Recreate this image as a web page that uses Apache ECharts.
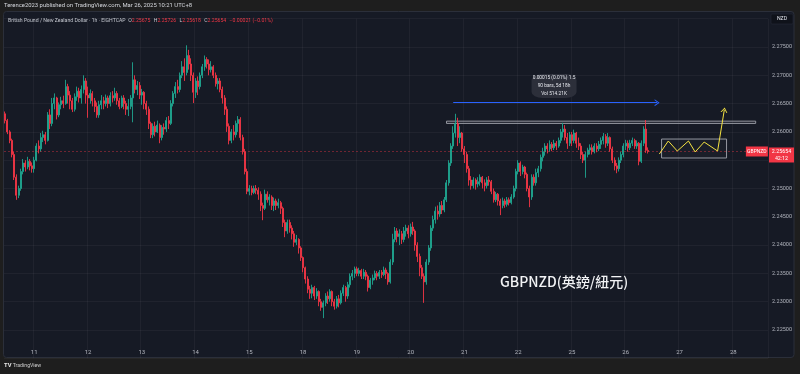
<!DOCTYPE html>
<html>
<head>
<meta charset="utf-8">
<script src="https://cdn.jsdelivr.net/npm/echarts@6/dist/echarts.min.js"></script>
<style>html,body{margin:0;padding:0;background:#1e1e1e;}#c{width:800px;height:374px;}</style>
</head>
<body>
<div id="c"></div>
<script>
// ---- data (GBPNZD, 1h bars, Mar 10 11:00 -> Mar 26 10:00 UTC+8) ----
const slotCount = 341;               // hourly slots on the time scale (incl. empty future)
const tickIdx  = [13,37,61,85,109,133,157,181,205,229,253,277,301,325];
const tickText = ['11','12','13','14','15','18','19','20','21','22','25','26','27','28'];
const firstOpen = 2.2632;
const closes = [
2.2620,2.2600,2.2585,2.2560,2.2520,2.2488,2.2500,2.2530,2.2545,2.2538,
2.2548,2.2540,2.2535,2.2550,2.2575,2.2570,2.2590,2.2595,2.2585,2.2630,
2.2615,2.2650,2.2660,2.2630,2.2648,2.2655,2.2650,2.2680,2.2665,2.2655,
2.2640,2.2662,2.2672,2.2660,2.2675,2.2690,2.2665,2.2660,2.2668,2.2655,
2.2645,2.2630,2.2648,2.2655,2.2650,2.2660,2.2650,2.2664,2.2660,2.2668,
2.2655,2.2645,2.2660,2.2650,2.2640,2.2645,2.2660,2.2692,2.2675,2.2682,
2.2665,2.2670,2.2650,2.2640,2.2615,2.2595,2.2610,2.2600,2.2612,2.2590,
2.2608,2.2605,2.2620,2.2615,2.2650,2.2668,2.2680,2.2675,2.2700,2.2715,
2.2705,2.2735,2.2720,2.2700,2.2670,2.2690,2.2680,2.2700,2.2715,2.2728,
2.2720,2.2710,2.2715,2.2700,2.2685,2.2690,2.2675,2.2660,2.2640,2.2610,
2.2585,2.2600,2.2595,2.2615,2.2622,2.2590,2.2565,2.2530,2.2495,2.2500,
2.2493,2.2500,2.2497,2.2490,2.2470,2.2465,2.2490,2.2480,2.2485,2.2470,
2.2478,2.2470,2.2475,2.2465,2.2440,2.2425,2.2440,2.2430,2.2420,2.2405,
2.2410,2.2395,2.2378,2.2360,2.2340,2.2322,2.2315,2.2325,2.2310,2.2318,
2.2300,2.2290,2.2298,2.2310,2.2305,2.2318,2.2300,2.2292,2.2305,2.2298,
2.2315,2.2325,2.2310,2.2330,2.2345,2.2350,2.2358,2.2350,2.2355,2.2345,
2.2352,2.2345,2.2325,2.2338,2.2342,2.2350,2.2345,2.2352,2.2348,2.2356,
2.2350,2.2335,2.2370,2.2410,2.2425,2.2415,2.2420,2.2410,2.2425,2.2430,
2.2420,2.2432,2.2425,2.2400,2.2380,2.2360,2.2345,2.2335,2.2370,2.2395,
2.2430,2.2445,2.2460,2.2455,2.2470,2.2462,2.2480,2.2510,2.2545,2.2575,
2.2598,2.2615,2.2590,2.2598,2.2570,2.2560,2.2535,2.2515,2.2505,2.2515,
2.2508,2.2512,2.2520,2.2510,2.2505,2.2515,2.2512,2.2495,2.2480,2.2490,
2.2478,2.2470,2.2478,2.2472,2.2480,2.2475,2.2485,2.2500,2.2530,2.2545,
2.2530,2.2538,2.2525,2.2500,2.2485,2.2520,2.2510,2.2528,2.2535,2.2555,
2.2565,2.2575,2.2570,2.2578,2.2572,2.2580,2.2575,2.2585,2.2600,2.2605,
2.2590,2.2580,2.2595,2.2585,2.2598,2.2580,2.2575,2.2560,2.2550,2.2560,
2.2568,2.2572,2.2565,2.2575,2.2570,2.2578,2.2585,2.2592,2.2580,2.2590,
2.2570,2.2550,2.2540,2.2535,2.2550,2.2560,2.2575,2.2580,2.2572,2.2580,
2.2585,2.2575,2.2580,2.2548,2.2580,2.2605,2.25675,2.25654];
const highs = [
2.2636,2.2623,2.2603,2.2588,2.2565,2.2525,2.2505,2.2535,2.2552,2.2550,
2.2556,2.2552,2.2546,2.2556,2.2580,2.2585,2.2598,2.2602,2.2600,2.2635,
2.2640,2.2660,2.2668,2.2662,2.2652,2.2662,2.2664,2.2692,2.2685,2.2672,
2.2660,2.2668,2.2680,2.2678,2.2682,2.2700,2.2695,2.2680,2.2675,2.2672,
2.2660,2.2652,2.2655,2.2665,2.2662,2.2666,2.2664,2.2670,2.2672,2.2678,
2.2672,2.2660,2.2664,2.2665,2.2655,2.2658,2.2665,2.2723,2.2700,2.2690,
2.2688,2.2676,2.2672,2.2655,2.2645,2.2618,2.2615,2.2618,2.2620,2.2615,
2.2612,2.2615,2.2626,2.2628,2.2656,2.2672,2.2688,2.2692,2.2705,2.2725,
2.2730,2.2753,2.2745,2.2730,2.2705,2.2695,2.2698,2.2705,2.2720,2.2735,
2.2732,2.2728,2.2725,2.2718,2.2705,2.2695,2.2695,2.2680,2.2665,2.2645,
2.2615,2.2605,2.2612,2.2620,2.2628,2.2626,2.2595,2.2570,2.2535,2.2506,
2.2505,2.2505,2.2506,2.2502,2.2495,2.2475,2.2498,2.2495,2.2490,2.2488,
2.2484,2.2482,2.2482,2.2478,2.2468,2.2445,2.2445,2.2445,2.2435,2.2425,
2.2418,2.2412,2.2398,2.2380,2.2362,2.2345,2.2328,2.2330,2.2328,2.2324,
2.2320,2.2305,2.2302,2.2315,2.2318,2.2322,2.2320,2.2305,2.2310,2.2312,
2.2320,2.2330,2.2328,2.2335,2.2350,2.2356,2.2362,2.2362,2.2360,2.2358,
2.2358,2.2356,2.2348,2.2342,2.2348,2.2355,2.2354,2.2356,2.2356,2.2362,
2.2360,2.2352,2.2375,2.2420,2.2432,2.2430,2.2428,2.2425,2.2432,2.2436,
2.2435,2.2438,2.2441,2.2428,2.2405,2.2385,2.2365,2.2350,2.2375,2.2400,
2.2435,2.2452,2.2468,2.2470,2.2476,2.2478,2.2485,2.2515,2.2550,2.2580,
2.2610,2.2632,2.2625,2.2610,2.2600,2.2575,2.2565,2.2540,2.2522,2.2520,
2.2518,2.2520,2.2525,2.2522,2.2516,2.2520,2.2522,2.2515,2.2500,2.2494,
2.2492,2.2482,2.2484,2.2482,2.2485,2.2484,2.2490,2.2505,2.2535,2.2550,
2.2548,2.2542,2.2540,2.2528,2.2505,2.2525,2.2525,2.2535,2.2540,2.2560,
2.2572,2.2580,2.2580,2.2585,2.2582,2.2586,2.2584,2.2590,2.2605,2.2616,
2.2612,2.2598,2.2600,2.2600,2.2604,2.2600,2.2590,2.2580,2.2565,2.2565,
2.2572,2.2578,2.2578,2.2580,2.2580,2.2584,2.2590,2.2598,2.2596,2.2598,
2.2592,2.2574,2.2555,2.2545,2.2555,2.2565,2.2580,2.2586,2.2585,2.2586,
2.2590,2.2588,2.2585,2.2582,2.2585,2.2610,2.2621,2.25726];
const lows = [
2.2615,2.2596,2.2580,2.2555,2.2515,2.2480,2.2483,2.2496,2.2525,2.2530,
2.2534,2.2532,2.2528,2.2528,2.2548,2.2562,2.2565,2.2582,2.2578,2.2583,
2.2605,2.2610,2.2640,2.2622,2.2626,2.2640,2.2642,2.2648,2.2650,2.2640,
2.2635,2.2636,2.2655,2.2652,2.2650,2.2668,2.2650,2.2625,2.2650,2.2645,
2.2635,2.2625,2.2625,2.2640,2.2640,2.2645,2.2642,2.2645,2.2652,2.2655,
2.2648,2.2640,2.2642,2.2640,2.2630,2.2628,2.2640,2.2617,2.2668,2.2665,
2.2658,2.2648,2.2640,2.2630,2.2605,2.2589,2.2589,2.2592,2.2598,2.2580,
2.2585,2.2595,2.2600,2.2605,2.2612,2.2645,2.2660,2.2668,2.2670,2.2695,
2.2690,2.2700,2.2710,2.2690,2.2651,2.2660,2.2665,2.2675,2.2695,2.2708,
2.2712,2.2700,2.2705,2.2695,2.2680,2.2675,2.2670,2.2650,2.2630,2.2600,
2.2578,2.2580,2.2585,2.2590,2.2600,2.2585,2.2560,2.2525,2.2490,2.2488,
2.2488,2.2490,2.2490,2.2480,2.2460,2.2444,2.2462,2.2475,2.2470,2.2462,
2.2460,2.2462,2.2465,2.2455,2.2432,2.2414,2.2420,2.2422,2.2410,2.2397,
2.2400,2.2385,2.2372,2.2352,2.2332,2.2315,2.2305,2.2306,2.2303,2.2305,
2.2292,2.2284,2.2271,2.2292,2.2296,2.2300,2.2292,2.2286,2.2288,2.2290,
2.2295,2.2310,2.2300,2.2305,2.2325,2.2338,2.2342,2.2345,2.2345,2.2340,
2.2340,2.2338,2.2318,2.2322,2.2330,2.2338,2.2338,2.2340,2.2342,2.2345,
2.2340,2.2330,2.2332,2.2365,2.2405,2.2405,2.2400,2.2402,2.2405,2.2415,
2.2412,2.2415,2.2418,2.2390,2.2370,2.2345,2.2340,2.2298,2.2330,2.2365,
2.2390,2.2425,2.2438,2.2445,2.2450,2.2455,2.2458,2.2476,2.2505,2.2540,
2.2570,2.2590,2.2575,2.2580,2.2565,2.2545,2.2528,2.2505,2.2498,2.2500,
2.2498,2.2502,2.2505,2.2500,2.2495,2.2500,2.2505,2.2490,2.2475,2.2476,
2.2470,2.2453,2.2465,2.2466,2.2468,2.2470,2.2472,2.2482,2.2495,2.2525,
2.2522,2.2525,2.2518,2.2495,2.2467,2.2480,2.2505,2.2505,2.2520,2.2530,
2.2548,2.2558,2.2562,2.2565,2.2566,2.2568,2.2568,2.2572,2.2580,2.2590,
2.2585,2.2570,2.2575,2.2575,2.2580,2.2572,2.2568,2.2552,2.2545,2.2519,
2.2555,2.2560,2.2560,2.2562,2.2564,2.2566,2.2570,2.2578,2.2572,2.2575,
2.2565,2.2545,2.2532,2.2527,2.2530,2.2545,2.2555,2.2568,2.2565,2.2568,
2.2575,2.2570,2.2570,2.2541,2.2545,2.2575,2.2563,2.25618];
const lastPrice = 2.25654;
// drawings, in [slot index, price]
const resistanceBox = [[197, 2.2619], [335, 2.2615]];
const rangeArrow    = [[200, 2.26516], [291, 2.26516]];
const rangeInfoAt   = [245, 2.2681];
const zigzagBox     = [[293, 2.25874], [322, 2.25539]];
const zigzag        = [[292,2.25609],[296,2.25839],[300,2.25662],[305,2.25839],[308,2.25645],[312,2.25821],[318,2.25662]];
const breakout      = [[318, 2.25662], [321, 2.26387]];

// ---- build ----
const slots = Array.from({length: slotCount}, (_, i) => String(i));
const candles = closes.map((c, i) => [i === 0 ? firstOpen : closes[i - 1], c, lows[i], highs[i]]);
const tickSet = new Set(tickIdx);
const chevron = 'path://M5,0 L10,10 L8.4,10 L5,3.2 L1.6,10 L0,10 Z';
const FONT = 'Roboto, "Liberation Sans", sans-serif';
const UP = '#1fa590', DOWN = '#f23645';

const chart = echarts.init(document.getElementById('c'), null, {renderer: 'canvas'});
chart.setOption({
  animation: false,
  backgroundColor: '#1e1e1e',
  textStyle: {fontFamily: FONT},
  grid: {left: 4, right: 32, top: 18.7, bottom: 15.7, containLabel: false},
  xAxis: {
    type: 'category', data: slots, boundaryGap: true,
    axisLine: {show: false}, axisTick: {show: false},
    axisLabel: {
      inside: true, margin: 3, color: '#b2b5be', fontSize: 6, fontFamily: FONT,
      interval: (i) => tickSet.has(i),
      formatter: (v, i) => tickText[tickIdx.indexOf(i)] || ''
    },
    splitLine: {show: true, interval: (i) => tickSet.has(i), lineStyle: {color: 'rgba(255,255,255,0.045)', width: 1}}
  },
  yAxis: {
    type: 'value', position: 'right', min: 2.22, max: 2.28, interval: 0.005, scale: true,
    axisLine: {show: false}, axisTick: {show: false},
    axisLabel: {
      margin: 4, color: '#b2b5be', fontSize: 5.5, fontFamily: FONT,
      formatter: (v) => (v < 2.2249 || v > 2.2751 || Math.abs(v - 2.255) < 1e-6) ? '' : v.toFixed(5)
    },
    splitLine: {lineStyle: {color: 'rgba(255,255,255,0.045)', width: 1}}
  },
  series: [
    {
      type: 'candlestick', data: candles, barWidth: 1.5, clip: false,
      itemStyle: {color: UP, color0: DOWN, borderColor: UP, borderColor0: DOWN, borderWidth: 0.9},
      markArea: {
        silent: true,
        data: [
          [{coord: resistanceBox[0], itemStyle: {color: 'rgba(255,255,255,0.04)', borderColor: '#9598a1', borderWidth: 1}}, {coord: resistanceBox[1]}],
          [{coord: zigzagBox[0], itemStyle: {color: 'rgba(255,255,255,0.02)', borderColor: '#9598a1', borderWidth: 1}}, {coord: zigzagBox[1]}]
        ]
      },
      markLine: {
        silent: true, symbol: ['none', 'none'], precision: 5,
        data: [
          {yAxis: lastPrice, label: {show: false}, lineStyle: {color: 'rgba(242,54,69,0.4)', type: [2, 2], width: 1}},
          [{coord: rangeArrow[0], symbol: 'none', lineStyle: {color: '#2962ff', width: 1, type: 'solid'}, label: {show: false}},
           {coord: rangeArrow[1], symbol: chevron, symbolSize: [7, 5]}],
          [{coord: breakout[0], symbol: 'none', lineStyle: {color: '#f5e342', width: 1, type: 'solid'}, label: {show: false}},
           {coord: breakout[1], symbol: chevron, symbolSize: [7, 5]}]
        ]
      },
      markPoint: {
        silent: true,
        data: [
          {coord: rangeInfoAt, symbol: 'roundRect', symbolSize: [45, 24], itemStyle: {color: '#2c2f3a'},
           label: {show: true, position: 'inside', color: '#e6e8ee', fontSize: 4.8, lineHeight: 8, fontFamily: FONT,
                   formatter: '0.00015 (0.01%) 1.5\n90 bars, 5d 18h\nVol 514.21K'}},
          {coord: [slotCount - 1, lastPrice], symbol: 'rect', symbolSize: [22, 10], symbolOffset: [-10, 0], itemStyle: {color: DOWN},
           label: {show: true, position: 'inside', color: '#ffffff', fontSize: 5, fontFamily: FONT, formatter: 'GBPNZD'}},
          {coord: [slotCount - 1, lastPrice], symbol: 'rect', symbolSize: [25, 15], symbolOffset: [14.6, 3.5], itemStyle: {color: DOWN},
           label: {show: true, position: 'inside', color: '#ffffff', fontSize: 5.3, lineHeight: 7, fontFamily: FONT, formatter: '2.25654\n42:12'}}
        ]
      }
    },
    {
      type: 'line', data: zigzag, symbol: 'none', silent: true,
      lineStyle: {color: '#f5e342', width: 1}, z: 5
    }
  ],
  graphic: [
    {type: 'rect', z: -10, silent: true, shape: {x: 3.5, y: 11.5, width: 790.5, height: 346, r: 3},
     style: {fill: '#161a25', stroke: '#2b2f3a', lineWidth: 1}},
    {type: 'text', left: 4, top: 2.5, silent: true,
     style: {text: 'Terence2023 published on TradingView.com, Mar 26, 2025 10:21 UTC+8', fill: '#d6d8de', fontSize: 5.9, fontFamily: FONT}},
    {type: 'text', left: 8, top: 15, silent: true,
     style: {
       text: '{g|British Pound / New Zealand Dollar · 1h · EIGHTCAP  O}{r|2.25675} {g|H}{r|2.25726} {g|L}{r|2.25618} {g|C}{r|2.25654} {r|−0.00021 (−0.01%)}',
       rich: {g: {fill: '#c3c6ce', fontSize: 5.15, fontFamily: FONT}, r: {fill: '#f23645', fontSize: 5.15, fontFamily: FONT}}
     }},
    {type: 'rect', silent: true, shape: {x: 771, y: 14, width: 22, height: 10, r: 1},
     style: {fill: '#0f121a', stroke: '#262a35', lineWidth: 0.6}},
    {type: 'text', silent: true, x: 782, y: 19,
     style: {text: 'NZD', fill: '#e0e3eb', fontSize: 5.2, fontFamily: FONT, align: 'center', verticalAlign: 'middle'}},
    {type: 'text', silent: true, x: 500, y: 281.5,
     style: {text: 'GBPNZD(英鎊/紐元)', fill: '#f2f3f5', fontSize: 14, fontWeight: 500, fontFamily: '"Noto Sans CJK TC", "Noto Sans", sans-serif', verticalAlign: 'middle'}},
    {type: 'text', silent: true, x: 4, y: 366,
     style: {text: '{l|TV}{t| TradingView}', verticalAlign: 'middle',
             rich: {l: {fill: '#e8e8e8', fontSize: 5.8, fontWeight: 'bold', fontFamily: FONT}, t: {fill: '#cfcfcf', fontSize: 5.2, fontFamily: FONT}}}}
  ]
});
</script>
</body>
</html>
